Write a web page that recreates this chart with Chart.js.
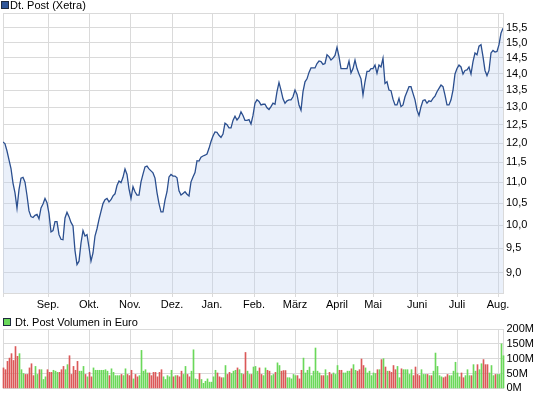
<!DOCTYPE html>
<html lang="de">
<head>
<meta charset="utf-8">
<title>Dt. Post (Xetra)</title>
<script src="https://cdn.jsdelivr.net/npm/chart.js@4.4.1/dist/chart.umd.min.js"></script>
<style>
  html, body { margin: 0; padding: 0; background: #fff; }
  #wrap { position: relative; width: 545px; height: 398px; overflow: hidden; }
  canvas { position: absolute; left: 0; }
  #price-chart { top: 0; }
  #volume-chart { top: 310px; }
</style>
</head>
<body>
<div id="wrap">
  <canvas id="price-chart" width="545" height="310"></canvas>
  <canvas id="volume-chart" width="545" height="88"></canvas>
</div>
<script>
// daily closing prices (EUR), one per trading day, Aug -> Aug
const prices = [
  12.03, 11.98, 11.79, 11.56, 11.34, 10.98, 10.74, 10.38, 10.82, 11.10,
  11.12, 11.00, 10.68, 10.32, 10.19, 10.17, 10.22, 10.24, 10.14, 10.39,
  10.48, 10.61, 10.51, 10.26, 9.85, 9.88, 10.08, 10.08, 9.79, 9.69,
  9.68, 10.16, 10.29, 10.19, 10.06, 9.98, 9.45, 9.16, 9.23, 9.61,
  9.88, 9.76, 9.79, 9.52, 9.23, 9.40, 9.76, 9.92, 10.13, 10.31,
  10.49, 10.58, 10.61, 10.53, 10.58, 10.67, 10.72, 10.92, 11.03, 10.99,
  11.12, 11.33, 11.19, 10.84,
  10.61, 10.89, 10.77, 10.69, 10.69, 11.01, 11.20, 11.38, 11.40, 11.33,
  11.28, 11.23, 11.10, 10.75, 10.49, 10.30, 10.30, 10.57, 10.77, 11.13,
  11.19, 11.15, 11.15, 11.11, 10.79, 10.69, 10.73, 10.77, 10.71, 10.67,
  11.01, 11.13, 11.24, 11.54, 11.53, 11.63, 11.66, 11.68, 11.71, 11.86,
  12.04, 12.19, 12.30, 12.29, 12.21, 12.15, 12.24, 12.54, 12.50, 12.41,
  12.41, 12.62, 12.74, 12.63, 12.70, 12.86, 12.76, 12.62, 12.62, 12.64,
  12.52, 12.76, 13.11,
  13.21, 13.16, 13.06, 13.08, 13.08, 12.98, 12.93, 13.01, 13.11, 13.08,
  13.45, 13.73, 13.50, 13.24, 13.11, 13.18, 13.21, 13.21, 13.30, 13.50,
  13.37, 13.06, 12.91, 13.45, 13.75, 13.84, 14.04, 14.18, 14.18, 14.18,
  14.32, 14.40, 14.38, 14.29, 14.32, 14.60, 14.54, 14.43, 14.49, 14.58,
  14.84, 14.54, 14.16, 14.16, 14.16, 14.16, 14.40, 14.02, 14.16, 14.43,
  14.16, 13.99, 13.84, 13.35, 13.75, 14.07, 14.07, 14.16, 14.16, 14.27,
  14.01, 14.27,
  14.21, 14.49, 13.70, 13.75, 13.50, 13.48, 13.23, 13.06, 13.06, 13.25,
  13.01, 13.06, 13.30, 13.45, 13.60, 13.60, 13.40, 13.21, 12.91, 12.76,
  13.01, 13.19, 13.21, 13.11, 13.18, 13.16, 13.25, 13.32, 13.45, 13.55,
  13.65, 13.60, 13.35, 13.06, 13.06, 13.21, 13.50, 13.99, 14.16, 14.27,
  14.21, 13.99, 14.10, 14.12, 14.21, 13.99, 14.38, 14.66, 14.60, 14.88,
  14.93, 14.54, 14.10, 13.94, 14.10, 14.66, 14.74, 14.69, 14.71, 14.93,
  15.32, 15.49,
];

// daily turnover in million EUR
const volumes = [
  69, 63, 91, 102, 117, 94, 141, 108, 117, 63,
  50, 47, 47, 69, 83, 43, 74, 47, 63, 63,
  30, 39, 63, 54, 54, 61, 58, 54, 54, 63,
  74, 63, 80, 110, 47, 74, 61, 91, 58, 58,
  74, 47, 39, 54, 39, 69, 61, 61, 61, 61,
  61, 63, 58, 43, 66, 54, 43, 43, 43, 47,
  43, 66, 47, 43, 61, 32, 47, 39, 43, 128,
  58, 63, 52, 52, 43, 54, 54, 39, 54, 63,
  39, 30, 43, 39, 61, 39, 43, 43, 39, 58,
  47, 74, 47, 39, 58, 130, 32, 30, 50, 30,
  17, 24, 32, 21, 21, 39, 61, 52, 39, 36,
  36, 77, 47, 54, 50, 58, 61, 69, 63, 50,
  47, 121, 58, 47, 47, 72, 74, 58, 69, 47,
  43, 69, 61, 58, 43, 47, 54,
  86, 77, 58, 60, 60, 36, 36, 32, 47, 43,
  43, 32, 61, 102, 52, 61, 72, 43, 58, 136,
  58, 52, 43, 43, 63, 43, 54, 47, 52, 47,
  77, 61, 61, 52, 52, 58, 58, 66, 80, 61,
  58, 63, 99, 77, 69, 52, 58, 43, 52, 50,
  63, 63, 97, 100, 72, 58, 58, 54, 77, 63,
  74, 36, 66, 63, 63, 63, 47, 63, 43, 72,
  47, 43, 63, 47, 47, 47, 43, 43, 58, 119,
  74, 43, 39, 36, 39, 47, 43, 43, 58, 88,
  52, 39, 52, 36, 43, 63, 43, 43, 80, 58,
  80, 63, 83, 97, 80, 80, 52, 77, 43, 47,
  47, 47, 150, 110,
];

// month starts, as trading-day index
const monthLabels = ['Sep.', 'Okt.', 'Nov.', 'Dez.', 'Jan.', 'Feb.', 'März', 'April', 'Mai', 'Juni', 'Juli', 'Aug.'];
const monthStarts = [22.5, 43, 63.5, 84.5, 104.5, 125.5, 146, 167, 185, 207, 227, 247.5];

const priceTicks = [9.0, 9.5, 10.0, 10.5, 11.0, 11.5, 12.0, 12.5, 13.0, 13.5, 14.0, 14.5, 15.0, 15.5];
const volumeTicks = [0, 50, 100, 150, 200];

const priceMin = 8.61;
const priceMax = 16.02;
const lastDay = prices.length - 1;

const gridColor = '#dadada';
const lineColor = '#2b4f8f';
const upColor = '#6ad85a';
const downColor = '#db5858';

Chart.defaults.font = { family: '"Liberation Sans", Arial, sans-serif', size: 11 };
Chart.defaults.color = '#000';

// small square + caption in the top-left corner
const legendBox = {
  id: 'legendBox',
  afterDraw(chart, args, opts) {
    const { ctx } = chart;
    ctx.save();
    ctx.fillStyle = '#1f2a3d';
    ctx.fillRect(opts.x, opts.y, opts.size, opts.size);
    ctx.fillStyle = opts.color;
    ctx.fillRect(opts.x + 1, opts.y + 1, opts.size - 2, opts.size - 2);
    ctx.fillStyle = '#000';
    ctx.font = '11px "Liberation Sans", Arial, sans-serif';
    ctx.textBaseline = 'middle';
    ctx.fillText(chart.data.datasets[0].label, opts.textX, opts.y + opts.size / 2 + 0.5);
    ctx.restore();
  },
};

const monthTicks = (scale) => {
  scale.ticks = [0, ...monthStarts].map((v) => ({ value: v }));
};

const monthLabel = (value) => {
  const k = monthStarts.indexOf(value);
  return k < 0 ? '' : monthLabels[k];
};

new Chart(document.getElementById('price-chart'), {
  type: 'line',
  data: {
    datasets: [
      {
        label: 'Dt. Post (Xetra)',
        data: prices.map((p, i) => ({ x: i, y: p })),
        borderColor: lineColor,
        borderWidth: 1.3,
        backgroundColor: 'rgba(190, 210, 240, 0.33)',
        fill: 'start',
        pointRadius: 0,
        tension: 0,
      },
    ],
  },
  options: {
    responsive: false,
    animation: false,
    events: [],
    layout: { padding: { left: 3, top: 13, right: 0, bottom: 0 } },
    plugins: {
      legend: { display: false },
      tooltip: { enabled: false },
      legendBox: { x: 1, y: 1, size: 8, color: '#2e5598', textX: 10 },
    },
    scales: {
      x: {
        type: 'linear',
        min: 0,
        max: lastDay,
        offset: false,
        afterBuildTicks: monthTicks,
        afterFit: (scale) => { scale.height = 17; },
        grid: { color: gridColor, tickLength: 4, offset: false },
        border: { color: gridColor },
        ticks: { autoSkip: false, maxRotation: 0, padding: 1, callback: monthLabel },
      },
      y: {
        type: 'logarithmic',
        position: 'right',
        min: priceMin,
        max: priceMax,
        afterBuildTicks: (scale) => {
          scale.ticks = [...priceTicks, priceMax].map((v) => ({ value: v }));
        },
        afterFit: (scale) => { scale.width = 42; },
        grid: { color: gridColor, drawTicks: false },
        border: { color: gridColor },
        ticks: {
          autoSkip: false,
          padding: 3,
          callback: (v) => (v > 15.9 ? '' : v.toFixed(1).replace('.', ',')),
        },
      },
    },
  },
  plugins: [legendBox],
});

const barColors = prices.map((p, i) => (i > 0 && p >= prices[i - 1] ? upColor : downColor));

new Chart(document.getElementById('volume-chart'), {
  type: 'bar',
  data: {
    datasets: [
      {
        label: 'Dt. Post Volumen in Euro',
        data: volumes.map((v, i) => ({ x: i, y: v })),
        backgroundColor: barColors,
        barThickness: 1,
        clip: false,
      },
    ],
  },
  options: {
    responsive: false,
    animation: false,
    events: [],
    layout: { padding: { left: 3.5, top: 19, right: 0, bottom: 0 } },
    plugins: {
      legend: { display: false },
      tooltip: { enabled: false },
      legendBox: { x: 3, y: 8, size: 8, color: '#6ad85a', textX: 15 },
    },
    scales: {
      x: {
        type: 'linear',
        min: 0,
        max: lastDay,
        offset: false,
        afterBuildTicks: monthTicks,
        afterFit: (scale) => { scale.height = 9; },
        grid: { color: gridColor, drawTicks: false, offset: false },
        border: { color: gridColor },
        ticks: { display: false },
      },
      y: {
        position: 'right',
        min: 0,
        max: 200,
        afterBuildTicks: (scale) => {
          scale.ticks = volumeTicks.map((v) => ({ value: v }));
        },
        afterFit: (scale) => { scale.width = 41.5; },
        grid: { color: gridColor, drawTicks: false },
        border: { color: gridColor },
        ticks: { autoSkip: false, padding: 3, callback: (v) => v + 'M' },
      },
    },
  },
  plugins: [legendBox],
});
</script>
</body>
</html>
